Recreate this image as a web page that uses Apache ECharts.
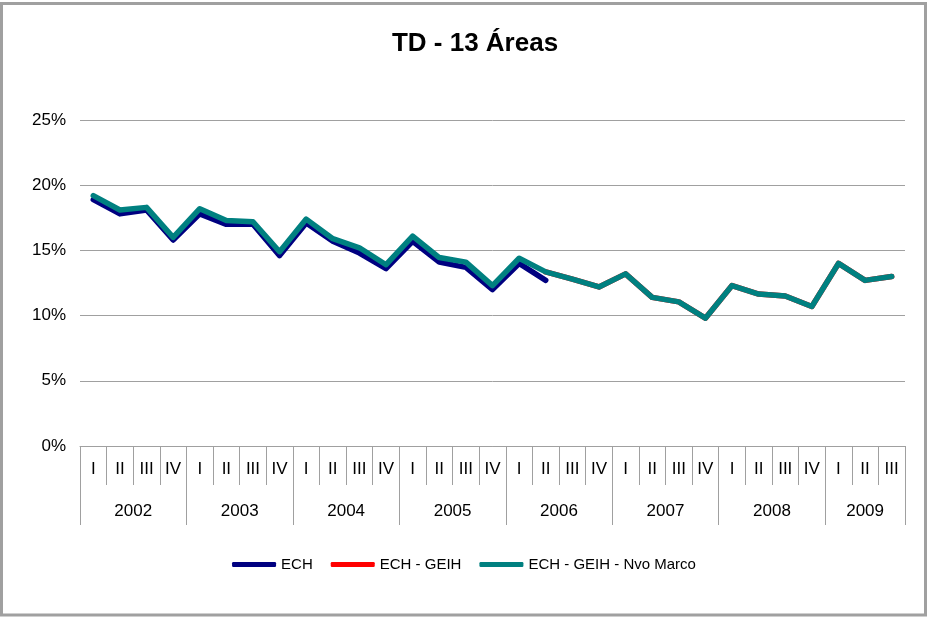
<!DOCTYPE html>
<html>
<head>
<meta charset="utf-8">
<title>TD - 13 Áreas</title>
<script src="https://cdn.jsdelivr.net/npm/echarts@6/dist/echarts.min.js"></script>
<style>
  html,
  body {
    margin: 0;
    padding: 0;
    background: #ffffff;
  }

  #chart {
    width: 928px;
    height: 617px;
  }
</style>
</head>
<body>
<div id="chart"></div>
<script>
const quarters = [
  "I", "II", "III", "IV",
  "I", "II", "III", "IV",
  "I", "II", "III", "IV",
  "I", "II", "III", "IV",
  "I", "II", "III", "IV",
  "I", "II", "III", "IV",
  "I", "II", "III", "IV",
  "I", "II", "III",
];

// year label sits on the half-quarter point in the middle of its block
const yearLabels = {
  4: "2002",
  12: "2003",
  20: "2004",
  28: "2005",
  36: "2006",
  44: "2007",
  52: "2008",
  59: "2009",
};

const yearBoundaries = [0, 8, 16, 24, 32, 40, 48, 56, 62];

const ech = [
  18.9, 17.8, 18.1, 15.8,
  17.8, 17.0, 17.0, 14.6,
  17.1, 15.7, 14.8, 13.6,
  15.7, 14.1, 13.7, 12.0,
  14.0, 12.7,
];

const echGeih = [
  null, null, null, null,
  null, null, null, null,
  null, null, null, null,
  null, null, null, null,
  null, 13.35, 12.8, 12.2,
  13.2, 11.4, 11.05, 9.8,
  12.3, 11.65, 11.5, 10.7,
  14.0, 12.7, 13.0,
];

const echGeihNvoMarco = [
  19.2, 18.1, 18.3, 16.0,
  18.2, 17.3, 17.2, 14.9,
  17.4, 15.9, 15.2, 13.9,
  16.1, 14.45, 14.1, 12.3,
  14.4, 13.35, 12.8, 12.2,
  13.2, 11.4, 11.05, 9.8,
  12.3, 11.65, 11.5, 10.7,
  14.0, 12.7, 13.0,
];

const fontFamily = "Liberation Sans, Arial, sans-serif";
const axisGray = "#a0a0a0";


function lineSeries(name, data, color) {
  return {
    name,
    type: "line",
    data,
    showSymbol: false,
    symbol: "none",
    connectNulls: false,
    lineStyle: {
      color,
      width: 5.5,
      cap: "round",
      join: "round",
    },
    itemStyle: {
      color,
    },
  };
}


const chart = echarts.init(
  document.getElementById("chart"),
  null,
  { renderer: "canvas" },
);

chart.setOption({
  animation: false,
  backgroundColor: "#ffffff",
  textStyle: {
    fontFamily,
  },
  title: {
    text: "TD - 13 Áreas",
    left: 470,
    top: 26,
    textAlign: "center",
    textStyle: {
      fontFamily,
      fontSize: 26,
      fontWeight: "bold",
      color: "#000000",
    },
  },
  graphic: [
    {
      type: "rect",
      silent: true,
      shape: {
        x: 1.5,
        y: 3.5,
        width: 924,
        height: 611.5,
      },
      style: {
        fill: null,
        stroke: "#a0a0a0",
        lineWidth: 3,
      },
    },
  ],
  legend: {
    top: 552,
    left: "center",
    icon: "roundRect",
    itemWidth: 44,
    itemHeight: 5,
    itemGap: 18,
    textStyle: {
      fontFamily,
      fontSize: 15,
      color: "#000000",
    },
    data: [
      "ECH",
      "ECH - GEIH",
      "ECH - GEIH - Nvo Marco",
    ],
  },
  grid: {
    left: 80,
    right: 23,
    top: 120,
    bottom: 171,
    containLabel: false,
  },
  xAxis: [
    {
      type: "category",
      position: "bottom",
      data: quarters,
      boundaryGap: true,
      axisLine: {
        show: true,
        lineStyle: {
          color: axisGray,
          width: 1,
        },
      },
      axisTick: {
        show: true,
        interval: 0,
        length: 39,
        lineStyle: {
          color: axisGray,
        },
      },
      axisLabel: {
        interval: 0,
        margin: 15,
        fontFamily,
        fontSize: 17,
        color: "#000000",
      },
    },
    {
      type: "category",
      position: "bottom",
      offset: 0,
      boundaryGap: false,
      data: Array.from(
        { length: 63 },
        (_, index) => String(index),
      ),
      axisLine: {
        show: false,
      },
      axisTick: {
        show: true,
        length: 79,
        interval: (index) => yearBoundaries.includes(index),
        lineStyle: {
          color: axisGray,
        },
      },
      axisLabel: {
        interval: (index) => yearLabels[index] !== undefined,
        formatter: (value, index) => yearLabels[index] || "",
        margin: 57,
        fontFamily,
        fontSize: 17,
        color: "#000000",
      },
      splitLine: {
        show: false,
      },
    },
  ],
  yAxis: {
    type: "value",
    min: 0,
    max: 25,
    interval: 5,
    axisLine: {
      show: false,
    },
    axisTick: {
      show: false,
    },
    axisLabel: {
      formatter: "{value}%",
      margin: 14,
      fontFamily,
      fontSize: 17,
      color: "#000000",
    },
    splitLine: {
      lineStyle: {
        color: axisGray,
        width: 1,
      },
    },
  },
  series: [
    lineSeries("ECH", ech, "#000080"),
    lineSeries("ECH - GEIH", echGeih, "#ff0000"),
    lineSeries(
      "ECH - GEIH - Nvo Marco",
      echGeihNvoMarco,
      "#008080",
    ),
  ],
});
</script>
</body>
</html>
